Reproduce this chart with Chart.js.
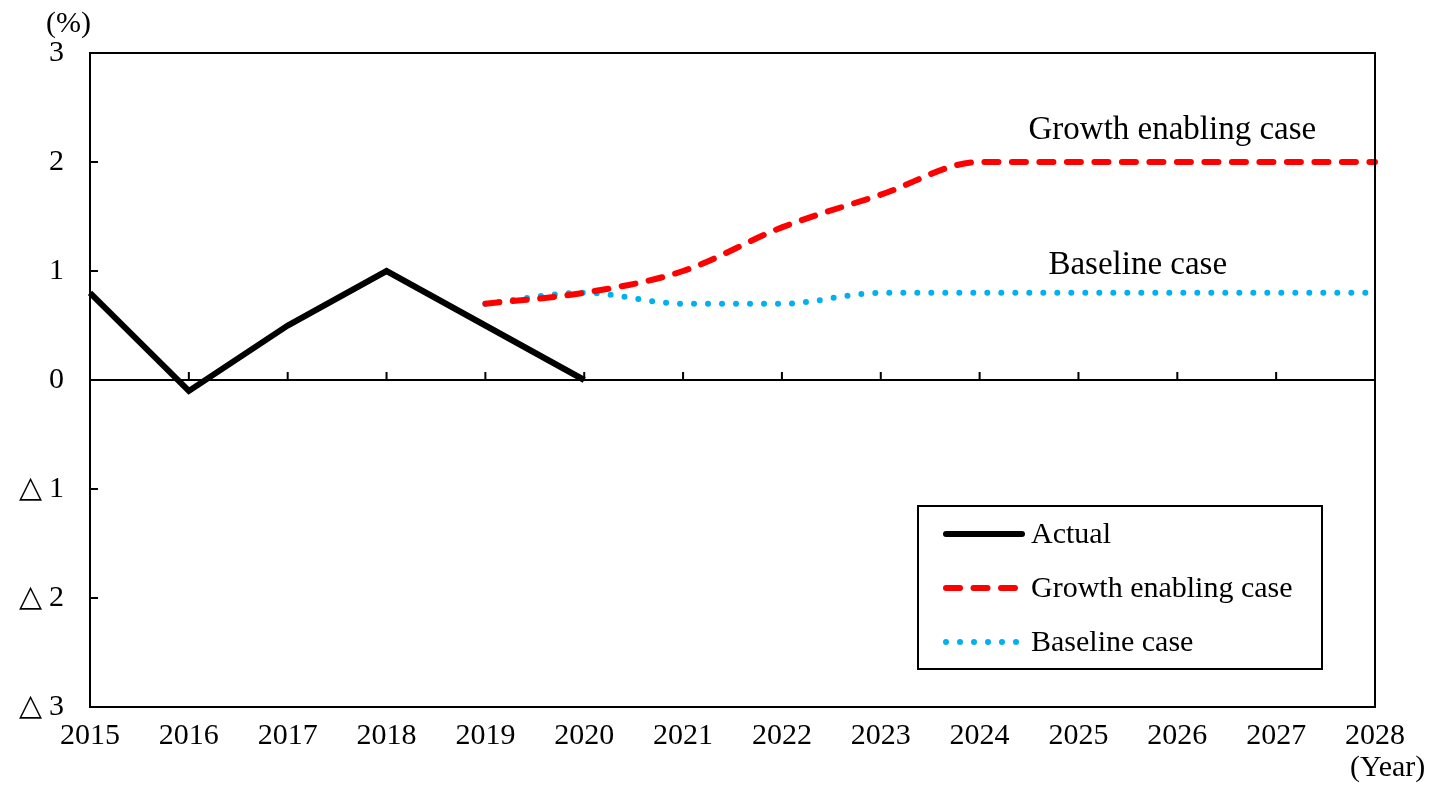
<!DOCTYPE html>
<html>
<head>
<meta charset="utf-8">
<script src="https://cdn.jsdelivr.net/npm/chart.js@4"></script>
<style>
  body { margin: 0; background: #fff; }
  #wrap { width: 1441px; height: 793px; }
</style>
</head>
<body>
<div id="wrap"><canvas id="container"></canvas></div>
<script>
var years = ["2015", "2016", "2017", "2018", "2019", "2020", "2021", "2022", "2023", "2024", "2025", "2026", "2027", "2028"]
var actual = [0.8, -0.1, 0.5, 1.0, 0.5, 0.0, null, null, null, null, null, null, null, null]
var growth = [null, null, null, null, 0.7, 0.8, 1.0, 1.4, 1.7, 2.0, 2.0, 2.0, 2.0, 2.0]
var baseline = [null, null, null, null, 0.7, 0.8, 0.7, 0.7, 0.8, 0.8, 0.8, 0.8, 0.8, 0.8]
var yTicks = [3, 2, 1, 0, -1, -2, -3]
var seriesNames = ["Actual", "Growth enabling case", "Baseline case"]

var FONT = "'Liberation Serif', 'Times New Roman', serif"

function yLabel(v) {
  return v < 0 ? "\u25B3 " + Math.abs(v) : String(v)
}

// frame, zero line, inside ticks, notes and legend box
var extras = {
  id: "extras",
  afterDatasetsDraw: function(chart) {
    var ctx = chart.ctx
    var a = chart.chartArea
    var x = chart.scales.x
    var y = chart.scales.y
    var y0 = y.getPixelForValue(0)
    ctx.save()
    ctx.strokeStyle = "#000"
    ctx.lineWidth = 2
    ctx.strokeRect(a.left, a.top, a.right - a.left, a.bottom - a.top)
    ctx.beginPath()
    ctx.moveTo(a.left, y0)
    ctx.lineTo(a.right, y0)
    for (var i = 1; i < years.length - 1; i++) {
      var px = x.getPixelForValue(i)
      ctx.moveTo(px, y0)
      ctx.lineTo(px, y0 - 8)
    }
    for (var j = 0; j < yTicks.length; j++) {
      var py = y.getPixelForValue(yTicks[j])
      ctx.moveTo(a.left, py)
      ctx.lineTo(a.left + 8, py)
    }
    ctx.stroke()

    ctx.fillStyle = "#000"
    ctx.font = "30px " + FONT
    ctx.textBaseline = "middle"
    ctx.textAlign = "left"
    ctx.fillText("(%)", 46, 24)
    ctx.fillText("(Year)", 1350, 768)

    ctx.textAlign = "center"
    ctx.font = "33px " + FONT
    ctx.fillText("Growth enabling case", x.getPixelForValue(10.95), y.getPixelForValue(2.29))
    ctx.fillText("Baseline case", x.getPixelForValue(10.6), y.getPixelForValue(1.05))

    // legend box
    var lx = 918, ly = 506, lw = 404, lh = 163
    ctx.font = "30px " + FONT
    ctx.fillStyle = "#fff"
    ctx.fillRect(lx, ly, lw, lh)
    ctx.strokeRect(lx, ly, lw, lh)
    var sets = chart.data.datasets
    for (var k = 0; k < sets.length; k++) {
      var rowY = ly + 28 + k * 54
      ctx.beginPath()
      ctx.strokeStyle = sets[k].borderColor
      ctx.lineWidth = sets[k].borderWidth
      ctx.lineCap = sets[k].borderCapStyle || "round"
      ctx.setLineDash(sets[k].borderDash || [])
      ctx.moveTo(946, rowY)
      ctx.lineTo(1022, rowY)
      ctx.stroke()
      ctx.setLineDash([])
      ctx.fillStyle = "#000"
      ctx.textAlign = "left"
      ctx.fillText(seriesNames[k], 1031, rowY + 1)
    }
    ctx.restore()
  }
}

var chart = new Chart(document.getElementById("container"), {
  type: "line",
  data: {
    labels: years,
    datasets: [{
      label: seriesNames[0],
      data: actual,
      borderColor: "#000000",
      borderWidth: 6,
      pointRadius: 0,
      tension: 0
    }, {
      label: seriesNames[1],
      data: growth,
      borderColor: "#FF0000",
      borderWidth: 6,
      borderDash: [14, 13.5],
      borderCapStyle: "round",
      pointRadius: 0,
      cubicInterpolationMode: "monotone"
    }, {
      label: seriesNames[2],
      data: baseline,
      borderColor: "#00B0F0",
      borderWidth: 6,
      borderDash: [0, 14],
      borderCapStyle: "round",
      pointRadius: 0,
      cubicInterpolationMode: "monotone"
    }]
  },
  options: {
    responsive: true,
    maintainAspectRatio: false,
    animation: false,
    spanGaps: false,
    layout: { padding: { top: 53, right: 66, left: 0, bottom: 0 } },
    plugins: {
      legend: { display: false },
      tooltip: { enabled: false }
    },
    scales: {
      x: {
        offset: false,
        grid: { display: false, drawTicks: false },
        border: { display: false },
        ticks: {
          color: "#000",
          font: { family: FONT, size: 30 },
          padding: 11,
          maxRotation: 0,
          autoSkip: false
        },
        afterFit: function(scale) { scale.height = 86 }
      },
      y: {
        min: -3,
        max: 3,
        grid: { display: false, drawTicks: false },
        border: { display: false },
        afterBuildTicks: function(scale) {
          scale.ticks = yTicks.map(function(v) { return { value: v } })
        },
        ticks: {
          color: "#000",
          font: { family: FONT, size: 30 },
          padding: 26,
          callback: function(v) { return yLabel(v) }
        },
        afterFit: function(scale) { scale.width = 90 }
      }
    }
  },
  plugins: [extras]
})
</script>
</body>
</html>
